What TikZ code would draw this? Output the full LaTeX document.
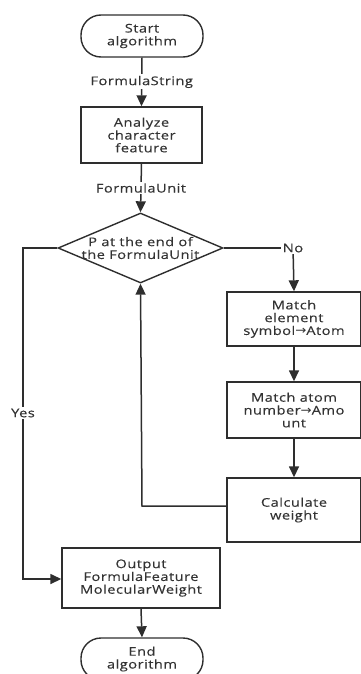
\documentclass[tikz,border=0pt]{standalone}
\usepackage{fontspec}
\setmainfont{Open Sans}[FakeStretch=1.22,LetterSpace=4,FakeBold=0.3]
\newfontfamily\symfont{DejaVu Sans}[FakeStretch=1.1]
\newcommand{\rarr}{{\symfont →}}
\usetikzlibrary{arrows.meta,shapes.geometric}
\definecolor{ln}{HTML}{2E2E2E}
\definecolor{tx}{HTML}{333333}
\begin{document}
\begin{tikzpicture}[x=1pt,y=-1pt,
  every node/.style={font=\fontsize{12}{12.8}\selectfont, text=tx, align=center, inner sep=0pt},
  boxnode/.style={draw=ln, line width=1.4pt, rectangle},
  termnode/.style={draw=ln, line width=1.4pt, rectangle, rounded corners=20pt},
  conn/.style={draw=ln, line width=1.5pt},
  arr/.style={conn, -{Triangle[length=11pt,width=10pt]}},
  lbl/.style={fill=white, inner sep=1.5pt}]
\useasboundingbox (0,0) rectangle (361,674);
\clip (0,0) rectangle (361,674);
\node[termnode, minimum width=122pt, minimum height=42pt] (start) at (142,36) {Start\\algorithm};
\node[boxnode, minimum width=121pt, minimum height=56pt] (analyze) at (141.5,135) {Analyze\\character\\feature};
\node[draw=ln, line width=1.4pt, diamond, minimum width=165pt, minimum height=70pt] (dec) at (140.5,248) {};
\node (dectext) at (140.5,248) {P at the end of\\the FormulaUnit};
\node[boxnode, minimum width=134pt, minimum height=54pt] (m1) at (294,319) {Match\\element\\symbol\rarr Atom};
\node[boxnode, minimum width=134pt, minimum height=56pt] (m2) at (294,410) {Match atom\\number\rarr Amo\\unt};
\node[boxnode, minimum width=134pt, minimum height=64pt] (calc) at (294,510) {Calculate\\weight};
\node[boxnode, minimum width=158pt, minimum height=60pt] (out) at (141,578) {Output\\FormulaFeature\\MolecularWeight};
\node[termnode, minimum width=122pt, minimum height=42pt] (end) at (142,659) {End\\algorithm};

\coordinate (nocorner) at (293,248);
\coordinate (yestop) at (23,248);
\coordinate (yesbot) at (23,579);
\coordinate (loopbot) at (142,506);

\draw[arr] (start.south) -- node[lbl, pos=0.5] (fs) {FormulaString} (analyze.north);
\draw[arr] (analyze.south) -- node[lbl, pos=0.5] (fu) {FormulaUnit} (dec.north);
\draw[conn] (dec.east) -- (nocorner);
\draw[arr] (nocorner) -- (m1.north);
\node[lbl] (no) at (nocorner) {No};
\draw[arr] (m1.south) -- (m2.north);
\draw[arr] (m2.south) -- (calc.north);
\draw[arr] (calc.west |- loopbot) -- (loopbot) -- (dec.south);
\draw[arr] (dec.west) -- (yestop) -- (yesbot) -- (out.west |- yesbot);
\node[lbl] (yes) at (23,413) {Yes};
\draw[arr] (out.south) -- (end.north);
\end{tikzpicture}
\end{document}
